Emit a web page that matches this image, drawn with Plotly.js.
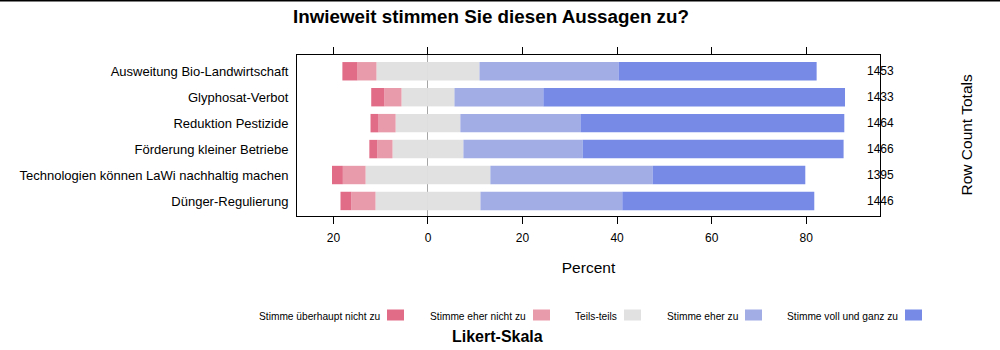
<!DOCTYPE html>
<html>
<head>
<meta charset="utf-8">
<script src="https://cdn.plot.ly/plotly-3.0.1.min.js"></script>
<style>
  html, body { margin: 0; padding: 0; background: #fff; }
  #chart { width: 1000px; height: 350px; }
</style>
</head>
<body>
<div id="chart"></div>
<script>
// ---------- data ----------
const categories = [
  'Ausweitung Bio-Landwirtschaft',
  'Glyphosat-Verbot',
  'Reduktion Pestizide',
  'Förderung kleiner Betriebe',
  'Technologien können LaWi nachhaltig machen',
  'Dünger-Regulierung'
];
const levels = [
  'Stimme überhaupt nicht zu',
  'Stimme eher nicht zu',
  'Teils-teils',
  'Stimme eher zu',
  'Stimme voll und ganz zu'
];
const ueberhauptNicht = [3.2, 2.8, 1.7, 1.7, 2.3, 2.3];
const eherNicht       = [4.0, 3.6, 3.6, 3.2, 4.8, 5.1];
const teilsTeils      = [21.8, 11.2, 13.7, 15.0, 26.4, 22.2];
const eherZu          = [29.4, 18.8, 25.4, 25.2, 34.3, 30.0];
const vollUndGanz     = [41.9, 63.8, 55.8, 55.2, 32.3, 40.6];
const rowTotals       = [1453, 1433, 1464, 1466, 1395, 1446];
const tickVals = [-20, 0, 20, 40, 60, 80];
const tickText = ['20', '0', '20', '40', '60', '80'];

// ---------- styles ----------
const colors = ['#E16C88', '#E89BAA', '#E1E1E1', '#A1ADE4', '#768AE6'];
const FONT = 'Liberation Sans, Arial, sans-serif';

// plot area in pixels
const W = 1000, H = 350;
const M = { l: 297, r: 120, t: 55, b: 134 };
const PW = W - M.l - M.r, PH = H - M.t - M.b;
const px2x = px => (px - M.l) / PW;
const py2y = py => (H - M.b - py) / PH;

// ---------- traces (diverging stacked bars) ----------
const neg = a => a.map(v => -v);
const half = a => a.map(v => v / 2);
function bar(x, color, name) {
  return {
    type: 'bar', orientation: 'h', y: categories, x: x, name: name,
    marker: { color: color, line: { width: 0 } },
    hovertemplate: '%{y}: %{x}<extra>' + name + '</extra>',
    showlegend: false
  };
}
const traces = [
  bar(neg(half(teilsTeils)), colors[2], levels[2]),
  bar(neg(eherNicht), colors[1], levels[1]),
  bar(neg(ueberhauptNicht), colors[0], levels[0]),
  bar(half(teilsTeils), colors[2], levels[2]),
  bar(eherZu, colors[3], levels[3]),
  bar(vollUndGanz, colors[4], levels[4])
];

// ---------- annotations ----------
const annotations = [];
rowTotals.forEach((n, i) => {
  annotations.push({
    xref: 'paper', yref: 'y', x: px2x(865), y: categories[i],
    xanchor: 'left', yanchor: 'middle', showarrow: false,
    text: String(n), font: { family: FONT, size: 12, color: '#000' }
  });
});
annotations.push({
  xref: 'paper', yref: 'paper', x: px2x(966), y: py2y(135.5),
  xanchor: 'center', yanchor: 'middle', showarrow: false, textangle: -90,
  text: 'Row Count Totals', font: { family: FONT, size: 15.5, color: '#000' }
});

// custom legend: label followed by swatch
const swatchLeft = [387, 533, 624, 745, 905];
const shapes = [];
levels.forEach((lv, i) => {
  shapes.push({
    type: 'rect', xref: 'paper', yref: 'paper',
    x0: px2x(swatchLeft[i]), x1: px2x(swatchLeft[i] + 17),
    y0: py2y(320.5), y1: py2y(309.5),
    fillcolor: colors[i], line: { width: 0 }
  });
  annotations.push({
    xref: 'paper', yref: 'paper', x: px2x(swatchLeft[i] - 5), y: py2y(316.5),
    xanchor: 'right', yanchor: 'middle', showarrow: false,
    text: lv, font: { family: FONT, size: 10.2, color: '#000' }
  });
});
annotations.push({
  xref: 'paper', yref: 'paper', x: px2x(497), y: py2y(336),
  xanchor: 'center', yanchor: 'middle', showarrow: false,
  text: '<b>Likert-Skala</b>', font: { family: FONT, size: 16, color: '#000' }
});
// top border line of the figure
shapes.push({
  type: 'line', xref: 'paper', yref: 'paper',
  x0: px2x(0), x1: px2x(1000), y0: py2y(0.75), y1: py2y(0.75),
  line: { color: '#000', width: 1.5 }
});

// ---------- layout ----------
const layout = {
  width: W, height: H, margin: M,
  paper_bgcolor: '#fff', plot_bgcolor: '#fff',
  font: { family: FONT, color: '#000' },
  barmode: 'relative', bargap: 0.29, showlegend: false,
  title: {
    text: 'Inwieweit stimmen Sie diesen Aussagen zu?',
    font: { family: FONT, size: 18.8, weight: 'bold', color: '#000' },
    xref: 'container', x: 0.491, xanchor: 'center',
    yref: 'container', y: 1 - 16 / H, yanchor: 'middle'
  },
  xaxis: {
    range: [-27.7, 95.6], tickmode: 'array', tickvals: tickVals, ticktext: tickText,
    ticks: 'outside', ticklen: 7, tickwidth: 1, tickcolor: '#000',
    showline: true, linecolor: '#000', linewidth: 1, mirror: 'ticks',
    showgrid: false, zeroline: true, zerolinecolor: '#A6A6A6', zerolinewidth: 1,
    tickfont: { family: FONT, size: 12, color: '#000' },
    ticklabelstandoff: 4,
    title: { text: 'Percent', font: { family: FONT, size: 15.5, color: '#000' }, standoff: 17 },
    automargin: false, fixedrange: true
  },
  yaxis: {
    type: 'category', categoryorder: 'array', categoryarray: categories,
    range: [5.58, -0.627],
    showline: true, linecolor: '#000', linewidth: 1, mirror: true,
    ticks: '', showgrid: false, zeroline: false,
    tickfont: { family: FONT, size: 13, color: '#000' },
    ticklabelstandoff: 5,
    automargin: false, fixedrange: true
  },
  annotations: annotations,
  shapes: shapes
};

Plotly.newPlot('chart', traces, layout, { displayModeBar: false, staticPlot: true });
</script>
</body>
</html>
